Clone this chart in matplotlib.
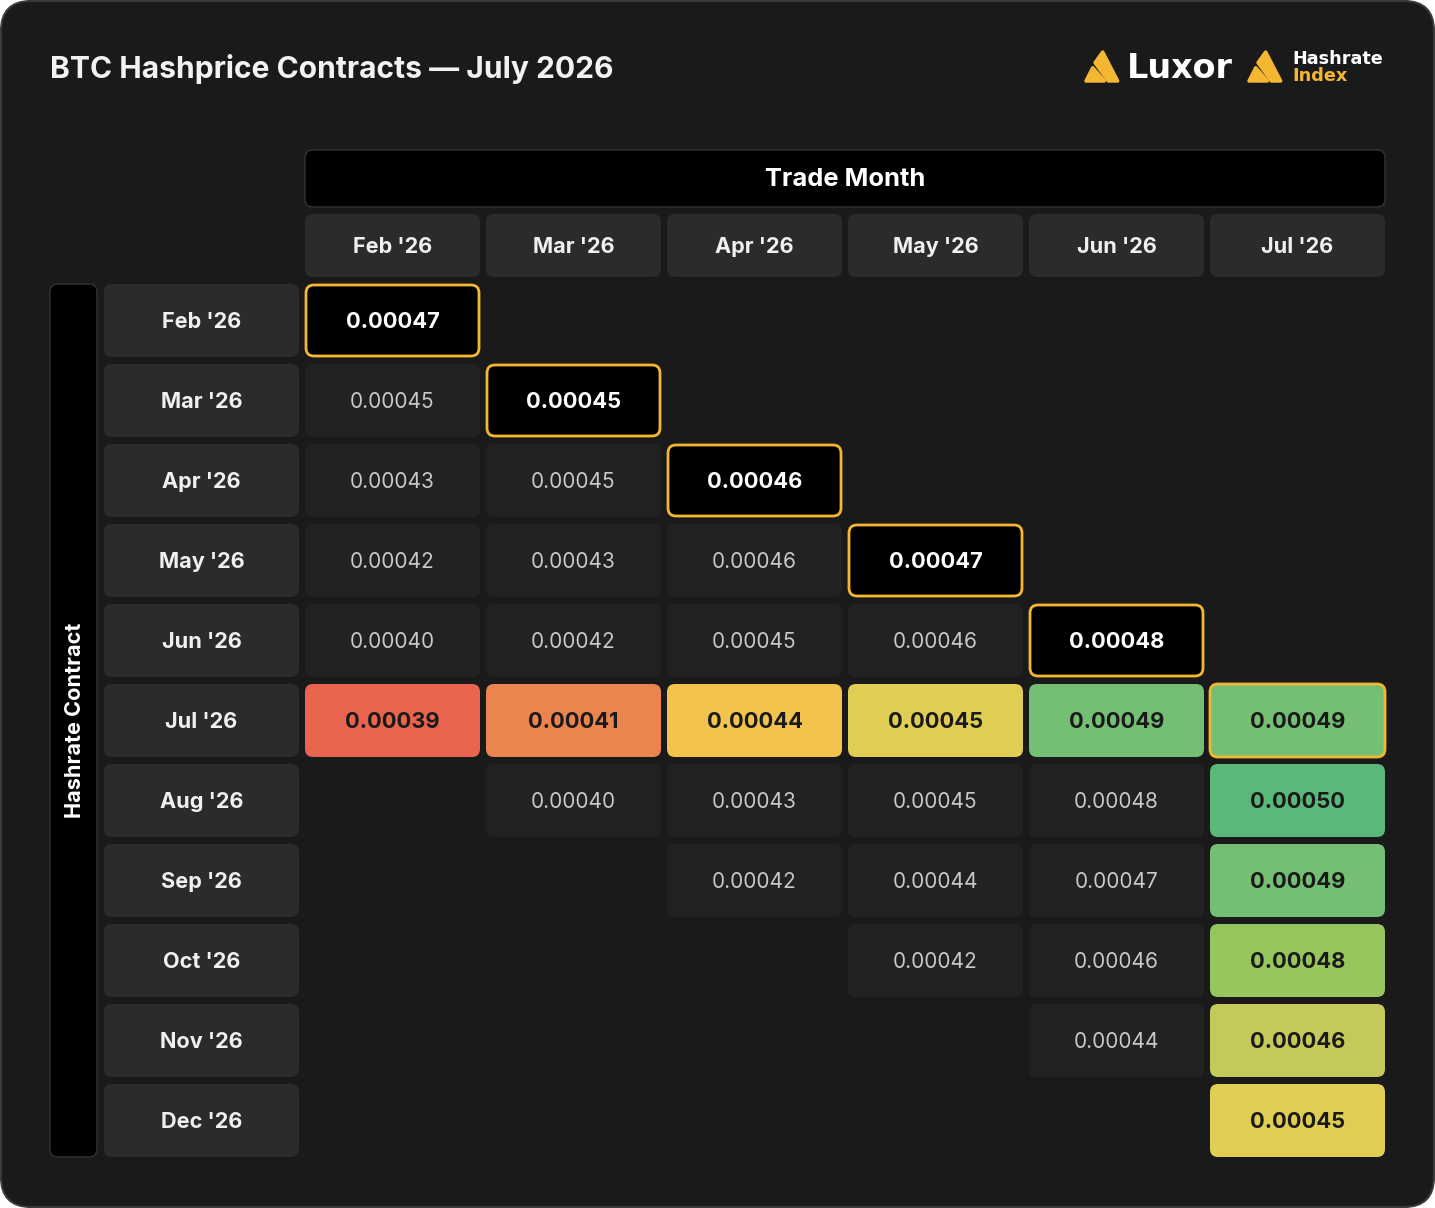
import numpy as np
import matplotlib
matplotlib.use('Agg')
import matplotlib.pyplot as plt
from matplotlib.patches import FancyBboxPatch, Polygon
from matplotlib.colors import LinearSegmentedColormap, Normalize

# dados
trade_months = ["Feb '26", "Mar '26", "Apr '26", "May '26", "Jun '26", "Jul '26"]
contracts = ["Feb '26", "Mar '26", "Apr '26", "May '26", "Jun '26", "Jul '26",
             "Aug '26", "Sep '26", "Oct '26", "Nov '26", "Dec '26"]
nan = np.nan
hashprice = np.array([
    [0.00047, nan, nan, nan, nan, nan],
    [0.00045, 0.00045, nan, nan, nan, nan],
    [0.00043, 0.00045, 0.00046, nan, nan, nan],
    [0.00042, 0.00043, 0.00046, 0.00047, nan, nan],
    [0.00040, 0.00042, 0.00045, 0.00046, 0.00048, nan],
    [0.00039, 0.00041, 0.00044, 0.00045, 0.00049, 0.00049],
    [nan, 0.00040, 0.00043, 0.00045, 0.00048, 0.00050],
    [nan, nan, 0.00042, 0.00044, 0.00047, 0.00049],
    [nan, nan, nan, 0.00042, 0.00046, 0.00048],
    [nan, nan, nan, nan, 0.00044, 0.00046],
    [nan, nan, nan, nan, nan, 0.00045],
])
mes_atual = "Jul '26"

# escala de cores (vermelho -> amarelo -> verde)
ancoras = [0.00039, 0.00041, 0.00044, 0.00045, 0.00046, 0.00048, 0.00049, 0.00050]
cores_ancoras = ['#e8644f', '#ec8450', '#f2c44e', '#e0ce54', '#c4c95a', '#98c65f', '#75bf74', '#5ab97a']
vmin, vmax = ancoras[0], ancoras[-1]
cmap = LinearSegmentedColormap.from_list(
    'hp', [((a - vmin) / (vmax - vmin), c) for a, c in zip(ancoras, cores_ancoras)])
norm = Normalize(vmin, vmax)

W, H = 1435, 1208
BG = '#1a1a1a'
HDR = '#2b2b2b'
CELL = '#222222'
AMARELO = '#f4b731'
FONTE = 'Inter'

fig = plt.figure(figsize=(W / 100, H / 100), dpi=100, facecolor='white')
ax = fig.add_axes([0, 0, 1, 1])
ax.set_xlim(0, W)
ax.set_ylim(H, 0)
ax.axis('off')


def caixa(x, y, w, h, fc, ec='none', lw=0, r=8, z=2):
    p = FancyBboxPatch((x, y), w, h, boxstyle=f'round,pad=0,rounding_size={r}',
                       fc=fc, ec=ec, lw=lw, zorder=z)
    ax.add_patch(p)
    return p


# cartão de fundo
caixa(1, 1, W - 2, H - 2, BG, ec='#3a3a3a', lw=1.5, r=30, z=0)

ax.text(50, 69, 'BTC Hashprice Contracts \u2014 July 2026', color='#f2f2f2', fontsize=21.6,
        fontweight='bold', family=FONTE, va='center', ha='left')

# logos
def logo(x0, y0, s=1.0):
    big = [(16.7, 0), (31.7, 29), (22.3, 29), (9, 10.7)]
    small = [(0, 29), (6.7, 15.7), (18.3, 29)]
    for pts in (big, small):
        ax.add_patch(Polygon([(x0 + px * s, y0 + py * s) for px, py in pts], closed=True,
                             fc=AMARELO, ec=AMARELO, lw=2.5, joinstyle='round', zorder=3))

logo(1086, 52)
ax.text(1127, 68, 'Luxor', color='white', fontsize=24, fontweight='bold',
        family='DejaVu Sans', va='center', ha='left')
logo(1249, 52)
ax.text(1292, 59, 'Hashrate', color='white', fontsize=12.7, fontweight='bold',
        family='DejaVu Sans', va='center', ha='left')
ax.text(1292, 76, 'Index', color=AMARELO, fontsize=12.7, fontweight='bold',
        family='DejaVu Sans', va='center', ha='left')

# grade
cx0, cw, cstep = 305, 175, 181
ry0, rh, rstep = 284, 73, 80

caixa(cx0, 150, cstep * len(trade_months) - 6, 57, 'black', ec='#333333', lw=1)
ax.text(cx0 + (cstep * len(trade_months) - 6) / 2, 180, 'Trade Month', color='white',
        fontsize=18.4, fontweight='bold', family=FONTE, ha='center', va='center')

caixa(50, ry0, 47, rstep * len(contracts) - 7, 'black', ec='#333333', lw=1)
ax.text(75, ry0 + (rstep * len(contracts) - 7) / 2, 'Hashrate Contract', color='white',
        fontsize=15.6, fontweight='bold', family=FONTE, ha='center', va='center', rotation=90)

for j, m in enumerate(trade_months):
    x = cx0 + j * cstep
    caixa(x, 214, cw, 63, HDR)
    ax.text(x + cw / 2, 247, m, color='#f0f0f0', fontsize=15.6, fontweight='bold',
            family=FONTE, ha='center', va='center')

for i, c in enumerate(contracts):
    y = ry0 + i * rstep
    caixa(104, y, 195, rh, HDR)
    ax.text(201.5, y + rh / 2 + 2, c, color='#f0f0f0', fontsize=15.6, fontweight='bold',
            family=FONTE, ha='center', va='center')
    for j, m in enumerate(trade_months):
        v = hashprice[i, j]
        if np.isnan(v):
            continue
        x = cx0 + j * cstep
        diag = (c == m)
        ativo = (c == mes_atual or m == mes_atual)
        txt = f'{v:.5f}'
        if ativo:
            caixa(x, y, cw, rh, cmap(norm(v)), ec=AMARELO if diag else 'none',
                  lw=2 if diag else 0)
            ax.text(x + cw / 2, y + rh / 2 + 2, txt, color='#1a1a1a', fontsize=15.8,
                    fontweight='bold', family=FONTE, ha='center', va='center', zorder=4)
        elif diag:
            caixa(x + 1, y + 1, cw - 2, rh - 2, 'black', ec=AMARELO, lw=2)
            ax.text(x + cw / 2, y + rh / 2 + 2, txt, color='white', fontsize=15.8,
                    fontweight='bold', family=FONTE, ha='center', va='center', zorder=4)
        else:
            caixa(x, y, cw, rh, CELL)
            ax.text(x + cw / 2, y + rh / 2 + 2, txt, color='#c8c8c8', fontsize=15,
                    family=FONTE, ha='center', va='center', zorder=4)

fig.savefig('out.png', dpi=100, facecolor='white')
